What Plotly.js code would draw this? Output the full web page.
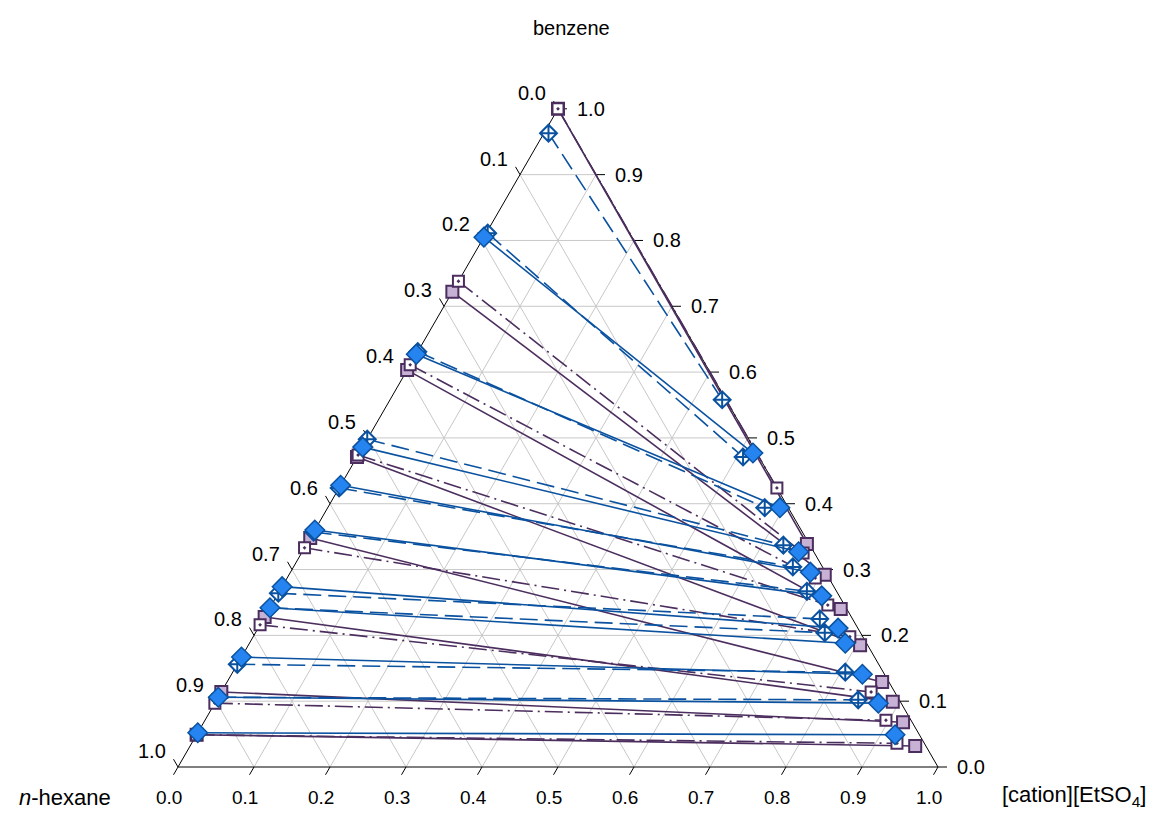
<!DOCTYPE html>
<html><head><meta charset="utf-8">
<script src="https://cdn.plot.ly/plotly-3.0.1.min.js"></script>
<style>html,body{margin:0;padding:0;background:#fff}#chart{width:1162px;height:813px}</style>
</head><body><div id="chart"></div>
<script>
// ---- data (mole fractions) ----
const tickValues = [0,0.1,0.2,0.3,0.4,0.5,0.6,0.7,0.8,0.9,1.0];
const tickLabels = ["0.0","0.1","0.2","0.3","0.4","0.5","0.6","0.7","0.8","0.9","1.0"];
const axisNames = {top:"benzene", left:"<i>n</i>-hexane", right:"[cation][EtSO<sub>4</sub>]"};

// purple system, experimental (filled squares, solid lines)
const purpleExpHexBenzene = [1.000,0.722,0.603,0.471,0.348,0.228,0.114,0.049];
const purpleExpHexIL      = [0,0,0,0,0,0,0,0];
const purpleExpILBenzene  = [0.339,0.292,0.240,0.185,0.129,0.099,0.068,0.032];
const purpleExpILHexane   = [0.003,0.003,0.008,0.010,0.009,0.010,0.012,0.014];
// purple system, calculated (open squares, dash-dot lines)
const purpleCalHexBenzene = [1.000,0.738,0.611,0.474,0.333,0.216,0.097,0.049];
const purpleCalHexIL      = [0,0,0,0,0,0,0,0];
const purpleCalILBenzene  = [0.424,0.325,0.287,0.246,0.198,0.114,0.071,0.036];
const purpleCalILHexane   = [0.000,0.015,0.018,0.022,0.017,0.031,0.033,0.036];
// blue system, experimental (filled diamonds, solid lines)
const blueExpHexBenzene = [0.805,0.627,0.486,0.428,0.360,0.274,0.242,0.167,0.106,0.052];
const blueExpHexIL      = [0,0,0,0,0,0,0,0,0,0];
const blueExpILBenzene  = [0.477,0.394,0.327,0.296,0.260,0.211,0.188,0.141,0.097,0.049];
const blueExpILHexane   = [0.005,0.011,0.020,0.020,0.023,0.026,0.028,0.029,0.030,0.032];
// blue system, calculated (open diamonds, dashed lines)
const blueCalHexBenzene = [0.963,0.811,0.631,0.498,0.424,0.357,0.264,0.242,0.156,0.106];
const blueCalHexIL      = [0.006,0.002,0,0,0,0,0,0,0,0];
const blueCalILBenzene  = [0.558,0.471,0.394,0.337,0.304,0.267,0.225,0.204,0.144,0.102];
const blueCalILHexane   = [0.005,0.021,0.031,0.035,0.039,0.039,0.043,0.047,0.050,0.054];

// ---- ternary -> cartesian (hexane bottom-left, IL bottom-right, benzene top) ----
const S3 = Math.sqrt(3)/2;
function X(benz, il){ return il + benz/2; }
function Y(benz){ return benz*S3; }

const purple = "#4b2d5e", purpleFill = "#c7b2d6";
const blue = "#0a52a0", blueFill = "#2684f0";
const grid = "#c8c8c8";

const traces = [];

// grid lines
(function(){
  const gx=[], gy=[];
  tickValues.slice(1,-1).forEach(t=>{
    gx.push(X(t,0), X(t,1-t), null); gy.push(Y(t), Y(t), null);
    gx.push(X(0,t), X(1-t,t), null); gy.push(Y(0), Y(1-t), null);
    gx.push(X(0,1-t), X(1-t,0), null); gy.push(Y(0), Y(1-t), null);
  });
  traces.push({x:gx,y:gy,mode:"lines",line:{color:grid,width:1},hoverinfo:"skip",showlegend:false});
})();

// frame + ticks
(function(){
  const L = 9/760;
  const fx=[X(0,0),X(0,1),X(1,0),X(0,0)], fy=[Y(0),Y(0),Y(1),Y(0)];
  fx.push(null); fy.push(null);
  tickValues.forEach(t=>{
    fx.push(X(0,t), X(0,t)-0.5*L, null); fy.push(Y(0), Y(0)-S3*L, null);
    fx.push(X(t,1-t), X(t,1-t)+L, null); fy.push(Y(t), Y(t), null);
    fx.push(X(1-t,0), X(1-t,0)-0.5*L, null); fy.push(Y(1-t), Y(1-t)+S3*L, null);
  });
  traces.push({x:fx,y:fy,mode:"lines",line:{color:"#000",width:1},hoverinfo:"skip",showlegend:false});
})();

function tieSeries(hb, hil, ib, ih, color, dash, marker){
  const lx=[], ly=[], mx=[], my=[];
  for(let i=0;i<hb.length;i++){
    const il2 = 1 - ib[i] - ih[i];
    const x1=X(hb[i],hil[i]), y1=Y(hb[i]), x2=X(ib[i],il2), y2=Y(ib[i]);
    lx.push(x1,x2,null); ly.push(y1,y2,null);
    mx.push(x1,x2); my.push(y1,y2);
  }
  traces.push({x:lx,y:ly,mode:"lines",line:{color:color,width:1.6,dash:dash},hoverinfo:"skip",showlegend:false});
  traces.push({x:mx,y:my,mode:"markers",marker:marker,hoverinfo:"skip",showlegend:false});
}

tieSeries(purpleExpHexBenzene,purpleExpHexIL,purpleExpILBenzene,purpleExpILHexane,purple,"solid",
  {symbol:"square",size:12,color:purpleFill,line:{color:purple,width:2}});
tieSeries(purpleCalHexBenzene,purpleCalHexIL,purpleCalILBenzene,purpleCalILHexane,purple,"18px,5px,2px,5px",
  {symbol:"square-dot",size:11,color:"#fff",line:{color:purple,width:2}});
tieSeries(blueCalHexBenzene,blueCalHexIL,blueCalILBenzene,blueCalILHexane,blue,"18px,7px",
  {symbol:"diamond-cross",size:13,color:"#fff",line:{color:blue,width:2}});
tieSeries(blueExpHexBenzene,blueExpHexIL,blueExpILBenzene,blueExpILHexane,blue,"solid",
  {symbol:"diamond",size:15,color:blueFill,line:{color:blue,width:1.5}});

// tick labels & titles
const ann = [];
const FAM = "Liberation Sans, Arial, sans-serif";
const tfSide = {family:FAM, size:20, color:"#000"};
const tfBottom = {family:FAM, size:19, color:"#000"};
tickValues.forEach((t,i)=>{
  ann.push({x:X(0,t),y:Y(0),xref:"x",yref:"y",text:tickLabels[i],showarrow:false,font:tfBottom,xanchor:"center",yanchor:"middle",xshift:-9,yshift:-30});
  ann.push({x:X(t,1-t),y:Y(t),xref:"x",yref:"y",text:tickLabels[i],showarrow:false,font:tfSide,xanchor:"left",yanchor:"middle",xshift:17,yshift:0});
  ann.push({x:X(1-t,0),y:Y(1-t),xref:"x",yref:"y",text:tickLabels[i],showarrow:false,font:tfSide,xanchor:"center",yanchor:"middle",xshift:-26,yshift:16});
});
const titleFont = {family:FAM, size:20, color:"#000"};
const axisFont = {family:FAM, size:22, color:"#000"};
ann.push({x:571/1162,y:1-28/813,xref:"paper",yref:"paper",text:axisNames.top,showarrow:false,font:titleFont,xanchor:"center",yanchor:"middle"});
ann.push({x:65/1162,y:1-797/813,xref:"paper",yref:"paper",text:axisNames.left,showarrow:false,font:axisFont,xanchor:"center",yanchor:"middle"});
ann.push({x:1074/1162,y:1-796/813,xref:"paper",yref:"paper",text:axisNames.right,showarrow:false,font:axisFont,xanchor:"center",yanchor:"middle"});

const layout = {
  width:1162, height:813,
  margin:{l:0,r:0,t:0,b:0},
  paper_bgcolor:"#fff", plot_bgcolor:"#fff",
  showlegend:false,
  xaxis:{range:[-178/760,(1162-178)/760],visible:false,fixedrange:true},
  yaxis:{range:[-46/760,767/760],visible:false,fixedrange:true},
  annotations:ann
};
Plotly.newPlot("chart",traces,layout,{displayModeBar:false,staticPlot:true});
</script>
</body></html>
